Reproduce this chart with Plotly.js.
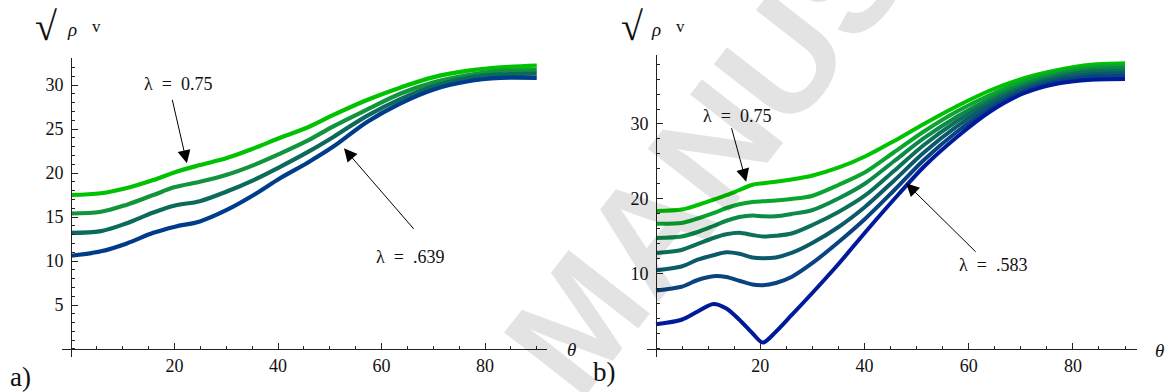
<!DOCTYPE html>
<html>
<head>
<meta charset="utf-8">
<script src="https://cdn.plot.ly/plotly-3.0.1.min.js"></script>
<style>html,body{margin:0;padding:0;background:#fff;}#chart{width:1169px;height:392px;}</style>
</head>
<body>
<div id="chart"></div>
<script>
// ---------- data : panel a) ----------
const thetaA = [0, 5.8, 10.8, 15.9, 20.1, 24.9, 30.1, 35.3, 40.4, 45.8, 50.7, 57.2, 63.6, 70.1, 76.5, 83, 90];
const a_lam075 = [17.5, 17.7, 18.3, 19.2, 20.1, 20.9, 21.7, 22.8, 24.0, 25.2, 26.6, 28.3, 29.7, 30.9, 31.6, 32.0, 32.2];
const a_lam2   = [15.4, 15.6, 16.4, 17.5, 18.4, 19.0, 19.8, 20.9, 22.2, 23.7, 25.3, 27.2, 29.0, 30.3, 31.1, 31.6, 31.7];
const a_lam3   = [13.2, 13.4, 14.3, 15.5, 16.3, 16.8, 17.9, 19.2, 20.7, 22.4, 24.1, 26.5, 28.4, 29.9, 30.8, 31.2, 31.3];
const a_lam0639= [10.6, 11.1, 12.0, 13.2, 13.9, 14.5, 15.8, 17.5, 19.4, 21.2, 23.0, 25.8, 27.9, 29.5, 30.4, 30.8, 30.8];
const seriesA = [a_lam075, a_lam2, a_lam3, a_lam0639];
const colorsA = ['#00c200', '#11943c', '#0b6a5a', '#003c8c'];

// ---------- data : panel b) ----------
const thetaB = [0, 4.9, 8, 11, 13.5, 16, 18.5, 20.5, 23, 26, 29.9, 35.1, 40.2, 45.6, 51.4, 57.8, 64.2, 70.6, 77.1, 83.5, 90];
const b_lam075 = [18.4, 18.6, 19.2, 19.9, 20.5, 21.2, 21.9, 22.1, 22.3, 22.6, 23.1, 24.2, 25.7, 27.7, 30.0, 32.4, 34.5, 36.1, 37.2, 37.9, 38.1];
const b_lam2   = [16.7, 16.8, 17.4, 18.1, 18.8, 19.3, 19.6, 19.7, 19.8, 20.0, 20.4, 21.9, 23.6, 26.2, 29.0, 31.7, 33.9, 35.7, 36.9, 37.6, 37.8];
const b_lam3   = [14.8, 15.0, 15.6, 16.4, 17.1, 17.6, 17.8, 17.7, 17.7, 18.0, 18.5, 20.1, 22.1, 25.0, 28.1, 31.0, 33.4, 35.3, 36.6, 37.3, 37.5];
const b_lam4   = [12.8, 13.2, 14.0, 14.8, 15.3, 15.5, 15.2, 15.0, 15.1, 15.4, 16.5, 18.3, 20.5, 23.7, 27.2, 30.4, 33.0, 35.0, 36.3, 37.0, 37.1];
const b_lam5   = [10.5, 11.0, 11.9, 12.5, 12.9, 12.7, 12.2, 12.1, 12.2, 12.8, 14.1, 16.3, 19.0, 22.4, 26.2, 29.7, 32.6, 34.7, 36.0, 36.6, 36.8];
const b_lam6   = [7.8, 8.3, 9.2, 9.7, 9.6, 9.1, 8.6, 8.5, 8.8, 9.6, 11.4, 14.3, 17.4, 21.1, 25.2, 29.0, 32.1, 34.4, 35.7, 36.3, 36.4];
const b_lam0583= [3.3, 3.9, 5.0, 6.0, 5.4, 3.9, 2.1, 0.85, 2.3, 4.5, 7.4, 11.4, 15.6, 19.9, 24.3, 28.3, 31.7, 34.1, 35.4, 35.9, 36.0];
const seriesB = [b_lam075, b_lam2, b_lam3, b_lam4, b_lam5, b_lam6, b_lam0583];
const colorsB = ['#00c200', '#0aa52e', '#0c8a48', '#0c7058', '#0a5a6a', '#0a4480', '#001a9c'];

// ---------- tick labels ----------
const xTicks = [20, 40, 60, 80];
const yTicksA = [5, 10, 15, 20, 25, 30];
const yTicksB = [10, 20, 30];

// ---------- layout helpers (pixel -> paper) ----------
const W = 1169, H = 392;
const px = v => v / W;
const py = v => (H - v) / H;

const traces = [];
seriesA.forEach((s, i) => traces.push({
  x: thetaA, y: s, xaxis: 'x', yaxis: 'y', mode: 'lines', type: 'scatter',
  line: {color: colorsA[i], width: 4.2, shape: 'spline', smoothing: 1}, hoverinfo: 'skip'
}));
seriesB.forEach((s, i) => traces.push({
  x: thetaB, y: s, xaxis: 'x2', yaxis: 'y2', mode: 'lines', type: 'scatter',
  line: {color: colorsB[i], width: 4, shape: 'spline', smoothing: 0.8}, hoverinfo: 'skip'
}));

const serif = 'Liberation Serif';
const tickFont = {family: serif, size: 18, color: '#111'};
const axisCommon = {
  showgrid: false, zeroline: false, showline: true, linecolor: '#222', linewidth: 1,
  ticks: 'inside', ticklen: 6, tickwidth: 1, tickcolor: '#222', tickfont: tickFont,
  tickmode: 'array', fixedrange: true
};

function txt(text, x, y, size) {
  return {text: text, xref: 'paper', yref: 'paper', x: px(x), y: py(y),
    xanchor: 'center', yanchor: 'middle', showarrow: false,
    font: {family: serif, size: size, color: '#111'}};
}
function arrow(xr, yr, hx, hy, ax, ay) {
  return {text: '', xref: xr, yref: yr, x: hx, y: hy, ax: ax, ay: ay, showarrow: true,
    arrowhead: 2, arrowsize: 2.6, arrowwidth: 1, arrowcolor: '#000'};
}

const annotations = [
  // watermark
  {text: '<b>MANUSCRIPT</b>', xref: 'paper', yref: 'paper', x: px(846), y: py(-22),
   xanchor: 'center', yanchor: 'middle', showarrow: false, textangle: -52,
   font: {family: 'Liberation Sans', size: 150, color: 'rgba(0,0,0,0.11)'}},
  // y labels
  txt('√', 46, 27, 40), txt('<i>ρ</i>', 72, 29, 19), txt('v', 96, 27, 17),
  txt('√', 632, 27, 40), txt('<i>ρ</i>', 656, 29, 19), txt('v', 680, 27, 17),
  // theta labels
  txt('<i>θ</i>', 571, 349, 19), txt('<i>θ</i>', 1159, 350, 19),
  // panel labels
  txt('a)', 20, 377, 27), txt('b)', 604, 372, 27),
  // lambda labels
  txt('λ\u00a0\u00a0=\u00a0\u00a00.75', 178, 84, 18),
  txt('λ\u00a0\u00a0=\u00a0\u00a0.639', 410, 257, 18),
  txt('λ\u00a0\u00a0=\u00a0\u00a00.75', 737, 116, 18),
  txt('λ\u00a0\u00a0=\u00a0\u00a0.583', 993, 265, 18),
  // arrows
  arrow('x', 'y', 22.4, 21.1, -15, -65),
  arrow('x', 'y', 52.75, 22.8, 71, 82),
  arrow('x2', 'y2', 17.3, 22.3, -15, -55),
  arrow('x2', 'y2', 48.0, 22.1, 71, 70)
];

const layout = {
  width: W, height: H, autosize: false,
  margin: {l: 0, r: 0, t: 0, b: 0, pad: 0},
  paper_bgcolor: '#fff', plot_bgcolor: 'rgba(0,0,0,0)',
  showlegend: false,
  xaxis: Object.assign({}, axisCommon, {domain: [px(62), px(547)], range: [-1.74, 91.98],
    anchor: 'free', position: py(349), tickvals: xTicks,
    minor: {tickmode: 'linear', tick0: 0, dtick: 5, ticks: 'inside', ticklen: 3, tickcolor: '#222', showgrid: false}}),
  yaxis: Object.assign({}, axisCommon, {domain: [py(357), py(58)], range: [-0.91, 33.07],
    anchor: 'free', position: px(71), tickvals: yTicksA, ticklabelstandoff: 4,
    minor: {tickmode: 'linear', tick0: 0, dtick: 1, ticks: 'inside', ticklen: 3, tickcolor: '#222', showgrid: false}}),
  xaxis2: Object.assign({}, axisCommon, {domain: [px(647), px(1137)], range: [-1.73, 92.3],
    anchor: 'free', position: py(349), tickvals: xTicks,
    minor: {tickmode: 'linear', tick0: 0, dtick: 5, ticks: 'inside', ticklen: 3, tickcolor: '#222', showgrid: false}}),
  yaxis2: Object.assign({}, axisCommon, {domain: [py(357), py(55)], range: [-1.07, 39.2],
    anchor: 'free', position: px(656), tickvals: yTicksB, ticklabelstandoff: 4,
    minor: {tickmode: 'linear', tick0: 0, dtick: 2, ticks: 'inside', ticklen: 3, tickcolor: '#222', showgrid: false}}),
  annotations: annotations
};

Plotly.newPlot('chart', traces, layout, {staticPlot: true, displayModeBar: false});
</script>
</body>
</html>
